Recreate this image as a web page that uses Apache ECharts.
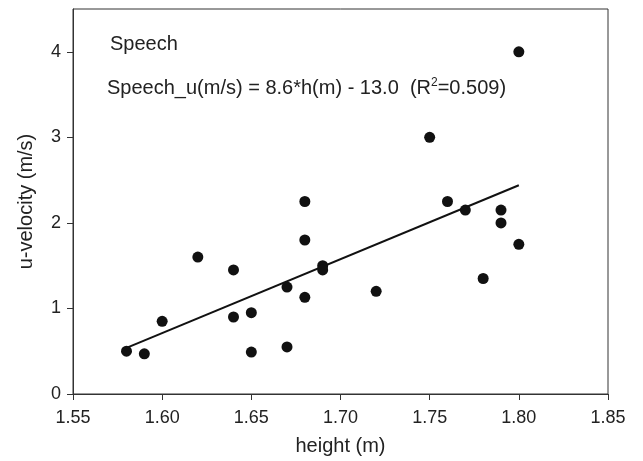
<!DOCTYPE html>
<html>
<head>
<meta charset="utf-8">
<script src="https://cdn.jsdelivr.net/npm/echarts@6/dist/echarts.min.js"></script>
<style>
html,body{margin:0;padding:0;background:#fff;}
#chart{width:643px;height:461px;}
</style>
</head>
<body>
<div id="chart"></div>
<script>
// Data
const heights = [1.58, 1.59, 1.60, 1.62, 1.64, 1.64, 1.65, 1.65, 1.67, 1.67, 1.68, 1.68, 1.68, 1.69, 1.69, 1.72, 1.75, 1.76, 1.77, 1.78, 1.79, 1.79, 1.80, 1.80];
const uVelocity = [0.50, 0.47, 0.85, 1.60, 1.45, 0.90, 0.95, 0.49, 1.25, 0.55, 2.25, 1.80, 1.13, 1.50, 1.45, 1.20, 3.00, 2.25, 2.15, 1.35, 2.15, 2.00, 1.75, 4.00];
const fitX = [1.58, 1.80];
const fitY = [0.54, 2.44];
const xTicks = [1.55, 1.60, 1.65, 1.70, 1.75, 1.80, 1.85];
const yTicks = [0, 1, 2, 3, 4];
const titleText = 'Speech';
const equationLead = 'Speech_u(m/s) = 8.6*h(m) - 13.0  (R';
const equationTail = '=0.509)';

const font = '"Liberation Sans", Arial, Helvetica, sans-serif';
const axisColor = '#333';

const chart = echarts.init(document.getElementById('chart'), null, {renderer: 'canvas'});
chart.setOption({
  backgroundColor: '#fff',
  animation: false,
  grid: {left: 73, right: 35, top: 9, bottom: 66, show: true, borderColor: axisColor, borderWidth: 1, backgroundColor: 'transparent'},
  xAxis: {
    type: 'value', min: 1.55, max: 1.85, interval: 0.05,
    name: 'height (m)', nameLocation: 'middle', nameGap: 42,
    nameTextStyle: {fontFamily: font, fontSize: 20, color: '#222'},
    axisLine: {show: true, onZero: false, lineStyle: {color: axisColor, width: 1}},
    axisTick: {show: true, inside: false, length: 6, customValues: xTicks, lineStyle: {color: axisColor}},
    axisLabel: {fontFamily: font, fontSize: 18, color: '#222', margin: 15, customValues: xTicks, formatter: v => v.toFixed(2)},
    splitLine: {show: false}
  },
  yAxis: {
    type: 'value', min: 0, max: 4.5,
    name: 'u-velocity (m/s)', nameLocation: 'middle', nameGap: 37,
    nameTextStyle: {fontFamily: font, fontSize: 20, color: '#222'},
    axisLine: {show: true, lineStyle: {color: axisColor, width: 1}},
    axisTick: {show: true, inside: false, length: 6, customValues: yTicks, lineStyle: {color: axisColor}},
    axisLabel: {fontFamily: font, fontSize: 18, color: '#222', margin: 12, customValues: yTicks},
    splitLine: {show: false}
  },
  series: [
    {
      type: 'scatter',
      data: heights.map((h, i) => [h, uVelocity[i]]),
      symbol: 'circle', symbolSize: 11,
      itemStyle: {color: '#111', opacity: 1},
      z: 3
    },
    {
      type: 'line',
      data: fitX.map((h, i) => [h, fitY[i]]),
      showSymbol: false, symbol: 'none',
      lineStyle: {color: '#111', width: 2},
      z: 2
    }
  ],
  graphic: [
    {
      type: 'text', left: 110, top: 34,
      style: {text: titleText, font: '20px ' + font, fill: '#222'}
    },
    {
      type: 'text', left: 107, top: 77,
      style: {
        text: '{a|' + equationLead + '}{s|2}{a|' + equationTail + '}',
        rich: {
          a: {fontFamily: font, fontSize: 20, fill: '#222', color: '#222'},
          s: {fontFamily: font, fontSize: 12, fill: '#222', color: '#222', verticalAlign: 'top', padding: [0, 0, 10, 0]}
        }
      }
    }
  ]
});
</script>
</body>
</html>
